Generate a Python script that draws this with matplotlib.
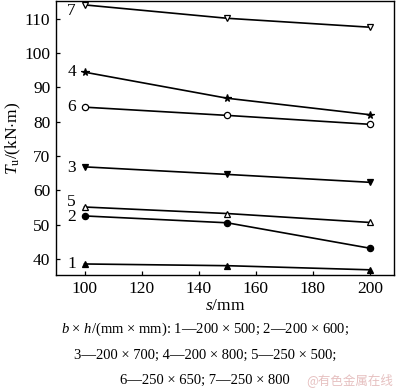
import matplotlib
matplotlib.use("Agg")
import matplotlib.pyplot as plt

plt.rcParams['font.family'] = ['Liberation Serif', 'DejaVu Serif']
plt.rcParams['mathtext.fontset'] = 'custom'
plt.rcParams['mathtext.rm'] = 'Liberation Serif'
plt.rcParams['mathtext.it'] = 'Liberation Serif:italic'

# data
spacing = [100, 150, 200]
t1 = [38.5, 38.0, 36.8]
t2 = [52.5, 50.5, 43.1]
t3 = [66.8, 64.6, 62.3]
t4 = [94.4, 86.8, 82.0]
t5 = [55.1, 53.2, 50.6]
t6 = [84.2, 81.8, 79.2]
t7 = [114.0, 110.1, 107.5]
curve_labels = ['1', '2', '3', '4', '5', '6', '7']

series = [t1, t2, t3, t4, t5, t6, t7]
markers = ['^', 'o', 'v', '*', '^', 'o', 'v']
filled = [True, True, True, True, False, False, False]
label_dy = [0, -0.4, -0.3, 0, 1.4, 0, -1.7]

fig = plt.figure(figsize=(4.0, 3.9), dpi=100)
ax = fig.add_axes([0.14, 0.295, 0.845, 0.703])

for vals, lab, m, f, dy in zip(series, curve_labels, markers, filled, label_dy):
    ms = 5.5 if m == '*' else 4.5
    ax.plot(spacing, vals, color='black', lw=1.2, marker=m, markersize=ms,
            markerfacecolor='black' if f else 'white', markeredgecolor='black',
            markeredgewidth=0.9)
    ax.text(spacing[0] - 3, vals[0] + dy, lab, ha='right', va='center', fontsize=12.5)

ax.set_xlim(90, 208.5)
ax.set_ylim(35.3, 115.2)
ax.set_xticks([100, 120, 140, 160, 180, 200])
ax.set_yticks([40, 50, 60, 70, 80, 90, 100, 110])
ax.tick_params(direction='in', labelsize=12.5, length=3, width=0.9, pad=4)
for sp in ax.spines.values():
    sp.set_linewidth(1.0)

ax.set_xlabel(r'$\mathit{s}$/mm', fontsize=12.5, labelpad=1)
ax.set_ylabel(r'$\mathit{T}_{\rm u}$/(kN$\cdot$m)', fontsize=12.5, labelpad=1)

caption = [
    r'$\mathit{b}$ × $\mathit{h}$/(mm × mm): 1—200 × 500; 2—200 × 600;',
    '3—200 × 700; 4—200 × 800; 5—250 × 500;',
    '6—250 × 650; 7—250 × 800',
]
caption_y = [329, 355, 380]
for line, yy in zip(caption, caption_y):
    fig.text(0.512, 1 - yy / 390, line, ha='center', va='center', fontsize=10.5)

fig.text(0.873, 1 - 380 / 390, '@有色金属在线', ha='center', va='center', fontsize=9,
         color='#e6c0c0', family=['Noto Sans CJK SC', 'DejaVu Sans'])

fig.savefig('out.png', dpi=100)
